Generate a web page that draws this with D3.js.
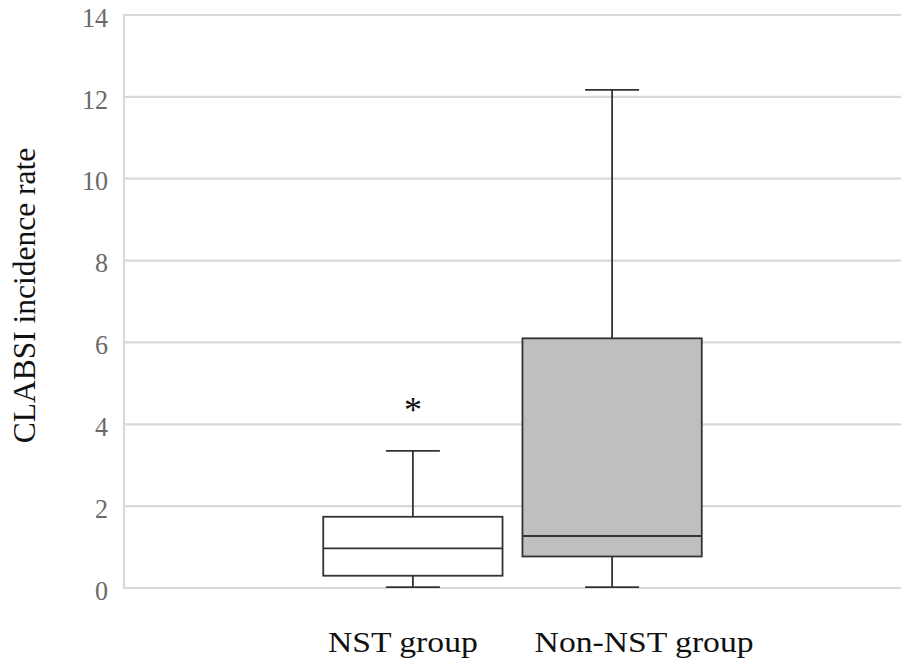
<!DOCTYPE html>
<html>
<head>
<meta charset="utf-8">
<script src="https://cdn.jsdelivr.net/npm/d3@7/dist/d3.min.js"></script>
<style>
  html, body { margin: 0; padding: 0; background: #fff; }
  svg { display: block; }
  .serif { font-family: "Liberation Serif", "Times New Roman", Times, "DejaVu Serif", serif; }
</style>
</head>
<body>
<svg id="chart" width="901" height="666"></svg>
<script>
// ---- data ----
const categories = ["NST group", "Non-NST group"];
const whiskerLow  = [0.02, 0.02];
const q1          = [0.30, 0.77];
const median      = [0.97, 1.27];
const q3          = [1.74, 6.10];
const whiskerHigh = [3.35, 12.17];
const outliers    = [[4.45], []];
const yTicks      = [0, 2, 4, 6, 8, 10, 12, 14];
const yLabel      = "CLABSI incidence rate";

// ---- layout ----
const plotL = 124, plotR = 901, plotT = 15, plotB = 588;
const fills = ["#ffffff", "#bfbfbf"];
const labelDx = [-10, 32];

const svg = d3.select("#chart");
const x = d3.scalePoint().domain(categories).range([plotL, plotR]).padding(1.45);
const y = d3.scaleLinear().domain([0, 14]).range([plotB, plotT]);
const boxW = x.step() * 0.9;
const capW = 54;
const sw = 1.8;

// gridlines
svg.append("g").selectAll("line").data(yTicks).join("line")
  .attr("x1", plotL).attr("x2", plotR)
  .attr("y1", d => y(d)).attr("y2", d => y(d))
  .attr("stroke", "#d9d9d9").attr("stroke-width", 2.2);

// left axis line
svg.append("line")
  .attr("x1", plotL).attr("x2", plotL)
  .attr("y1", y(14) - 1).attr("y2", y(0) + 1)
  .attr("stroke", "#d9d9d9").attr("stroke-width", 2.2);

// y tick labels
const yAxis = d3.axisLeft(y).tickValues(yTicks).tickSize(0).tickPadding(16);
const ga = svg.append("g").attr("transform", `translate(${plotL},0)`).call(yAxis);
ga.select(".domain").remove();
ga.attr("font-family", null).attr("font-size", null);
ga.selectAll("text")
  .attr("class", "serif")
  .style("font-size", "28px").attr("fill", "#6a6a6a").attr("dy", "0.4em");
ga.selectAll("text").each(function () {
  const t = d3.select(this);
  const len = this.getComputedTextLength();
  t.attr("textLength", len * 0.93).attr("lengthAdjust", "spacingAndGlyphs");
});

// boxes
const stroke = "#333";
const g = svg.append("g").selectAll("g").data(categories).join("g");
g.append("line") // upper whisker
  .attr("x1", d => x(d)).attr("x2", d => x(d))
  .attr("y1", (d, i) => y(q3[i])).attr("y2", (d, i) => y(whiskerHigh[i]))
  .attr("stroke", stroke).attr("stroke-width", sw);
g.append("line") // lower whisker
  .attr("x1", d => x(d)).attr("x2", d => x(d))
  .attr("y1", (d, i) => y(q1[i])).attr("y2", (d, i) => y(whiskerLow[i]))
  .attr("stroke", stroke).attr("stroke-width", sw);
g.append("line") // upper cap
  .attr("x1", d => x(d) - capW / 2).attr("x2", d => x(d) + capW / 2)
  .attr("y1", (d, i) => y(whiskerHigh[i])).attr("y2", (d, i) => y(whiskerHigh[i]))
  .attr("stroke", stroke).attr("stroke-width", sw);
g.append("line") // lower cap
  .attr("x1", d => x(d) - capW / 2).attr("x2", d => x(d) + capW / 2)
  .attr("y1", (d, i) => y(whiskerLow[i])).attr("y2", (d, i) => y(whiskerLow[i]))
  .attr("stroke", stroke).attr("stroke-width", sw);
g.append("rect")
  .attr("x", d => x(d) - boxW / 2).attr("width", boxW)
  .attr("y", (d, i) => y(q3[i])).attr("height", (d, i) => y(q1[i]) - y(q3[i]))
  .attr("fill", (d, i) => fills[i]).attr("stroke", stroke).attr("stroke-width", sw);
g.append("line") // median
  .attr("x1", d => x(d) - boxW / 2).attr("x2", d => x(d) + boxW / 2)
  .attr("y1", (d, i) => y(median[i])).attr("y2", (d, i) => y(median[i]))
  .attr("stroke", stroke).attr("stroke-width", sw);

// outliers as asterisks
categories.forEach((c, i) => {
  svg.append("g").selectAll("text").data(outliers[i]).join("text")
    .attr("class", "serif")
    .attr("x", x(c)).attr("y", d => y(d))
    .attr("dy", "0.45em")
    .attr("text-anchor", "middle")
    .style("font-size", "36px").attr("fill", "#111")
    .text("*");
});

// category labels
svg.append("g").selectAll("text").data(categories).join("text")
  .attr("class", "serif")
  .attr("x", (d, i) => x(d) + labelDx[i]).attr("y", 652)
  .attr("text-anchor", "middle")
  .style("font-size", "29px").attr("fill", "#111")
  .text(d => d)
  .each(function () {
    const len = this.getComputedTextLength();
    d3.select(this).attr("textLength", len * 1.16).attr("lengthAdjust", "spacingAndGlyphs");
  });

// y axis label
svg.append("text")
  .attr("class", "serif")
  .attr("transform", `translate(35, ${(plotT + plotB) / 2 - 6}) rotate(-90)`)
  .attr("text-anchor", "middle")
  .style("font-size", "31.5px").attr("fill", "#111")
  .text(yLabel);
</script>
</body>
</html>
